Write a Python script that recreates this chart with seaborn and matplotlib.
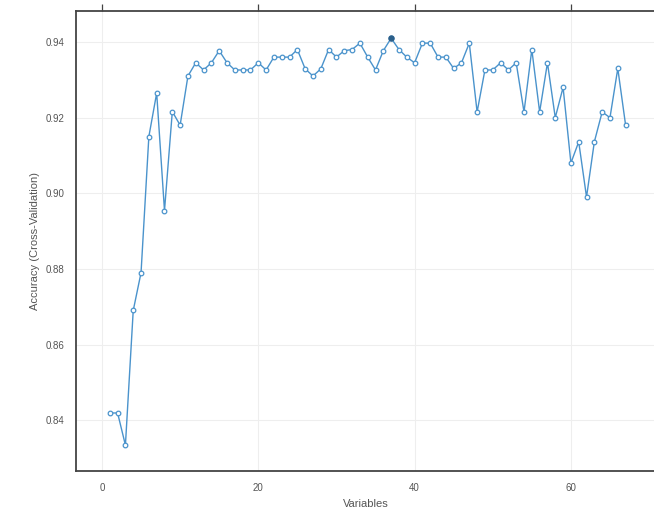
import numpy as np
import pandas as pd
import matplotlib
matplotlib.use("Agg")
import matplotlib.pyplot as plt
import seaborn as sns

# number of variables kept by the RFE step
n_vars = list(range(1, 68))
# cross-validated accuracy at each size
accuracy = [
    0.8419, 0.8419, 0.8334, 0.8690, 0.8790, 0.9150, 0.9265, 0.8954, 0.9216, 0.9180,
    0.9310, 0.9345, 0.9326, 0.9345, 0.9377, 0.9345, 0.9326, 0.9326, 0.9326, 0.9345,
    0.9326, 0.9360, 0.9360, 0.9360, 0.9380, 0.9329, 0.9310, 0.9329, 0.9380, 0.9360,
    0.9377, 0.9380, 0.9397, 0.9360, 0.9326, 0.9377, 0.9410, 0.9380, 0.9360, 0.9345,
    0.9397, 0.9397, 0.9360, 0.9360, 0.9330, 0.9345, 0.9397, 0.9215, 0.9326, 0.9326,
    0.9345, 0.9326, 0.9345, 0.9215, 0.9380, 0.9215, 0.9345, 0.9200, 0.9280, 0.9080,
    0.9136, 0.8990, 0.9136, 0.9215, 0.9200, 0.9330, 0.9180,
]
x_ticks = [0, 20, 40, 60]
y_ticks = [0.84, 0.86, 0.88, 0.90, 0.92, 0.94]

LINE_COL = "#4a93cc"
TEXT_COL = "#555555"

df = pd.DataFrame({"Variables": n_vars, "Accuracy": accuracy})
best = df.loc[df["Accuracy"].idxmax()]

sns.set_style("white")
plt.rcParams["font.family"] = ["Liberation Sans", "DejaVu Sans"]

fig = plt.figure(figsize=(6.54, 5.23), dpi=100)
ax = fig.add_axes([0.116, 0.099, 0.886, 0.880])

sns.lineplot(data=df, x="Variables", y="Accuracy", ax=ax,
             color=LINE_COL, linewidth=1.0, zorder=3)
sns.scatterplot(data=df, x="Variables", y="Accuracy", ax=ax,
                facecolor="white", edgecolor=LINE_COL, linewidth=0.9,
                s=11, zorder=4)
ax.scatter([best["Variables"]], [best["Accuracy"]], s=13,
           color="#2b5f8a", zorder=5)

ax.set_xlim(-3.34, 70.8)
ax.set_ylim(0.8265, 0.9482)
ax.set_xticks(x_ticks)
ax.set_yticks(y_ticks)
ax.set_yticklabels([f"{v:.2f}" for v in y_ticks])

ax.grid(True, color="#eeeeee", linewidth=0.8, zorder=0)
ax.set_axisbelow(True)

for sp in ax.spines.values():
    sp.set_color("#444444")
    sp.set_linewidth(1.3)

ax.tick_params(axis="both", direction="out", length=5, width=0.9,
               color="#444444", labelsize=7, labelcolor=TEXT_COL,
               top=True, right=True, labeltop=False, labelright=False)

ax.set_xlabel("Variables", fontsize=8, color=TEXT_COL)
ax.set_ylabel("Accuracy (Cross-Validation)", fontsize=8, color=TEXT_COL)

plt.savefig("out.png", dpi=100)
plt.close()
